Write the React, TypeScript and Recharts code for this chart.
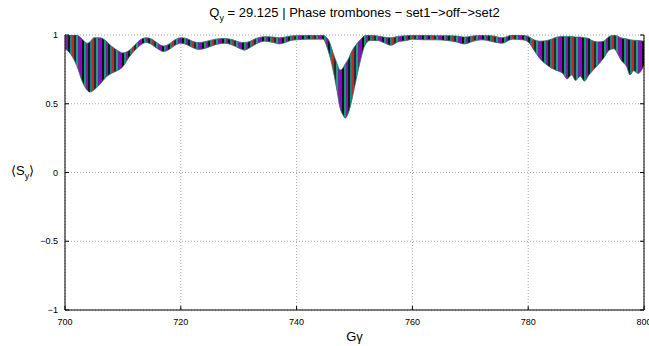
import React from 'react';
import { ComposedChart, Area, XAxis, YAxis, CartesianGrid } from 'recharts';

// G-gamma sample positions and the envelope of the <S_y> traces
const gamma = [
  700, 701, 702, 703, 703.8, 704.3, 705, 706, 707, 708, 709, 710, 711, 712, 713, 714, 715, 716, 717, 718,
  719, 720, 721, 722, 723, 724, 725, 726, 727.5, 729, 730, 731, 732, 733, 734.5, 736, 737, 738, 739, 740,
  742, 744.5, 745.5, 746.3, 747, 747.5, 748, 748.4, 749, 749.5, 750.1, 751, 751.8, 752.7, 754, 755, 756.3,
  757.5, 759, 760, 762, 764, 766, 767.5, 769, 770.5, 772, 774, 775.5, 777.3, 779, 780, 781, 782, 783, 784,
  785, 786, 786.7, 787.5, 788.2, 789, 789.7, 790.5, 791, 792, 793, 794, 794.8, 795.5, 796, 797, 797.6, 798.2,
  799, 800,
];
const upper = [
  0.99, 1.0, 1.0, 0.97, 0.94, 0.95, 0.98, 0.98, 0.96, 0.92, 0.89, 0.87, 0.885, 0.925, 0.965, 0.98, 0.97, 0.94, 0.92, 0.935,
  0.965, 0.98, 0.975, 0.955, 0.945, 0.95, 0.96, 0.97, 0.975, 0.965, 0.95, 0.945, 0.955, 0.975, 0.988, 0.985, 0.98, 0.985, 0.993, 0.995,
  0.998, 0.998, 0.965, 0.87, 0.79, 0.745, 0.76, 0.79, 0.83, 0.88, 0.92, 0.965, 0.995, 0.998, 0.993, 0.985, 0.98,
  0.99, 0.995, 0.998, 0.998, 0.995, 0.995, 0.993, 0.985, 0.993, 0.998, 0.993, 0.98, 1.0, 0.998, 0.99, 0.965, 0.955, 0.958, 0.97,
  0.985, 0.99, 0.99, 0.99, 0.985, 0.985, 0.98, 0.975, 0.96, 0.95, 0.955, 0.99, 1.0, 0.99, 0.98, 0.972, 0.965, 0.962,
  0.96, 0.955,
];
const lower = [
  0.9, 0.86, 0.78, 0.66, 0.6, 0.585, 0.6, 0.64, 0.69, 0.72, 0.74, 0.77, 0.835, 0.885, 0.925, 0.945, 0.93, 0.9, 0.88, 0.895,
  0.925, 0.94, 0.93, 0.91, 0.895, 0.9, 0.915, 0.93, 0.94, 0.925, 0.905, 0.89, 0.91, 0.935, 0.955, 0.945, 0.935, 0.945, 0.96, 0.965,
  0.97, 0.97, 0.88, 0.745, 0.59, 0.47, 0.42, 0.395, 0.44, 0.52, 0.64, 0.81, 0.925, 0.96, 0.96, 0.945, 0.925,
  0.95, 0.96, 0.97, 0.965, 0.965, 0.96, 0.95, 0.935, 0.955, 0.965, 0.95, 0.94, 0.97, 0.965, 0.95, 0.89, 0.83, 0.79, 0.76,
  0.74, 0.72, 0.68, 0.71, 0.67, 0.7, 0.665, 0.71, 0.735, 0.78, 0.83, 0.89, 0.9, 0.86, 0.82, 0.77, 0.71, 0.74,
  0.72, 0.78,
];

const xTicks = [700, 720, 740, 760, 780, 800];
const yTicks = [-1, -0.5, 0, 0.5, 1];

// gnuplot's line colours, repeated as thin vertical stripes to mimic the dense overlapping traces
const stripeColors = ['#9400d3', '#111111', '#009e73', '#7a1fa2', '#1a1a1a', '#0e8a86', '#c0282a', '#2b2b2b', '#1f9e8a', '#6a2a94'];

const data = gamma.map((g, i) => ({ g, band: [lower[i], upper[i]] }));

const fmtY = (v: number) => (v < 0 ? '\u2212' + String(-v) : String(v));
const blank = () => '';

export default function App() {
  const font = '"Liberation Sans", Arial, Helvetica, sans-serif';
  return (
    <div style={{ position: 'absolute', left: 0, top: 0, width: 649, height: 346, background: '#fff', fontFamily: font }}>
      <ComposedChart width={649} height={346} data={data} margin={{ top: 35, right: 0, bottom: 0, left: 0 }}>
        <defs>
          <pattern id="traceStripes" x="0" y="0" width={stripeColors.length * 2} height="4" patternUnits="userSpaceOnUse">
            {stripeColors.map((c, i) => (
              <rect key={i} x={i * 2} y={0} width={2} height={4} fill={c} />
            ))}
          </pattern>
        </defs>
        <CartesianGrid xAxisId="bottom" yAxisId="left" stroke="#a8a8a8" strokeDasharray="1 2" />
        <XAxis
          xAxisId="bottom"
          dataKey="g"
          type="number"
          domain={[700, 800]}
          ticks={xTicks}
          interval={0}
          height={36}
          tickSize={-4}
          tickMargin={13}
          stroke="#000"
          tick={{ fontSize: 9, fill: '#000', fontFamily: font }}
          allowDataOverflow
        />
        <XAxis
          xAxisId="top"
          orientation="top"
          dataKey="g"
          type="number"
          domain={[700, 800]}
          ticks={xTicks}
          interval={0}
          height={0}
          tickSize={-4}
          tickFormatter={blank}
          stroke="#000"
          allowDataOverflow
        />
        <YAxis
          yAxisId="left"
          type="number"
          domain={[-1, 1]}
          ticks={yTicks}
          interval={0}
          width={65}
          tickSize={-4}
          tickMargin={11}
          tickFormatter={fmtY}
          stroke="#000"
          tick={{ fontSize: 9, fill: '#000', fontFamily: font }}
          allowDataOverflow
        />
        <YAxis
          yAxisId="right"
          orientation="right"
          type="number"
          domain={[-1, 1]}
          ticks={yTicks}
          interval={0}
          width={5}
          tickSize={-4}
          tickFormatter={blank}
          stroke="#000"
          allowDataOverflow
        />
        <Area
          xAxisId="bottom"
          yAxisId="left"
          dataKey="band"
          type="monotone"
          fill="url(#traceStripes)"
          fillOpacity={1}
          stroke="#2f6b66"
          strokeWidth={0.8}
          isAnimationActive={false}
        />
      </ComposedChart>
      <div style={{ position: 'absolute', left: 65, width: 579, top: 5, textAlign: 'center', fontSize: 13, color: '#000', whiteSpace: 'nowrap' }}>
        Q<sub style={{ fontSize: 9 }}>y</sub> = 29.125 | Phase trombones {'\u2212'} set1{'\u2212'}&gt;off{'\u2212'}&gt;set2
      </div>
      <div style={{ position: 'absolute', left: 11, top: 163, fontSize: 13, color: '#000', whiteSpace: 'nowrap' }}>
        {'\u27e8'}S<sub style={{ fontSize: 9 }}>y</sub>{'\u27e9'}
      </div>
      <div style={{ position: 'absolute', left: 65, width: 579, top: 329, textAlign: 'center', fontSize: 13, color: '#000' }}>
        G{'\u03b3'}
      </div>
    </div>
  );
}
